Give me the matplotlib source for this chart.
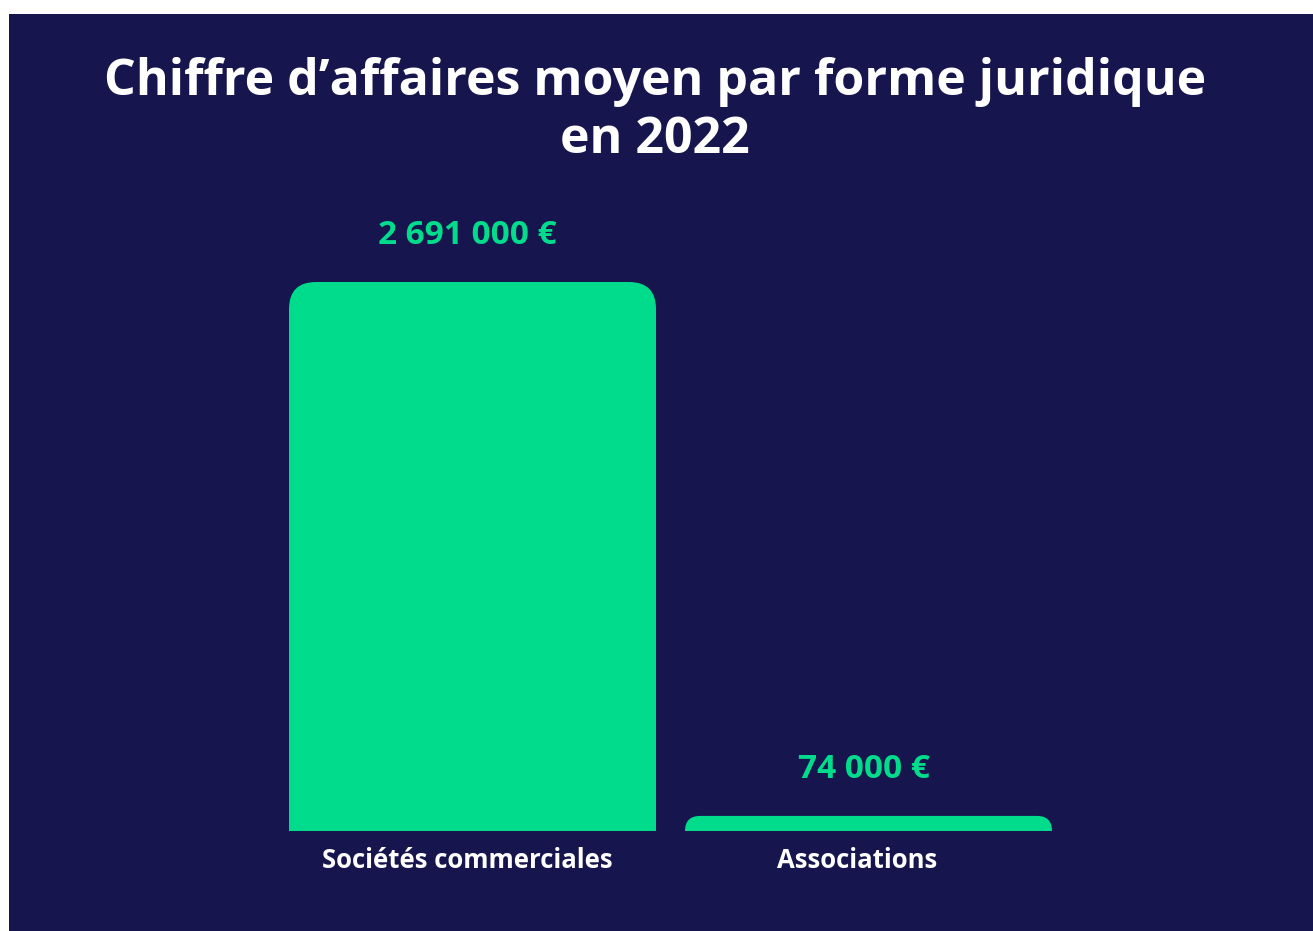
import matplotlib.pyplot as plt
from matplotlib.patches import FancyBboxPatch, Rectangle

# données
categories = ['Sociétés commerciales', 'Associations']
valeurs = [2691000, 74000]
etiquettes = ['2 691 000 €', '74 000 €']

fond = '#16154D'
vert = '#00DB8C'
W, H = 1313, 931

plt.rcParams['font.family'] = ['Open Sans', 'DejaVu Sans']

fig = plt.figure(figsize=(W / 100, H / 100), dpi=100, facecolor='white')
# panneau sombre (marge blanche en haut et à gauche)
fig.patches.append(Rectangle((9 / W, 0), 1 - 9 / W, (H - 14) / H,
                             transform=fig.transFigure, facecolor=fond,
                             edgecolor='none', zorder=-10))

# axes : base à y=831 px, sommet à y=282 px
x_px0, x_px1 = 260, 1080
y_bas, y_haut = 831, 282
ax = fig.add_axes([x_px0 / W, (H - y_bas) / H, (x_px1 - x_px0) / W, (y_bas - y_haut) / H])
ax.set_facecolor('none')
ax.axis('off')

px_x = 396.0  # pixels par unité x
xmin = -(472.5 - x_px0) / px_x
xmax = 1 + (x_px1 - 868.5) / px_x
ax.set_xlim(xmin, xmax)
ymax = max(valeurs)
ax.set_ylim(0, ymax)
px_y = (y_bas - y_haut) / ymax  # pixels par unité y

largeur = 367 / px_x
aspect = (1 / px_y) / (1 / px_x)

for i, v in enumerate(valeurs):
    h_px = v * px_y
    r_px = min(27, h_px)
    r = r_px / px_x
    ext = r_px / px_y
    boite = FancyBboxPatch((i - largeur / 2, -ext), largeur, v + ext,
                           boxstyle=f'round,pad=0,rounding_size={r}',
                           mutation_aspect=aspect, facecolor=vert,
                           edgecolor='none', clip_on=True)
    ax.add_patch(boite)
    ax.annotate(etiquettes[i], (i, v), xytext=(-5, 46.5), textcoords='offset pixels',
                ha='center', va='center', color=vert, fontsize=24,
                fontweight='bold', annotation_clip=False)
    ax.annotate(categories[i], (i, 0), xytext=(-5 - 6 * i, -30), textcoords='offset pixels',
                ha='center', va='center', color='white', fontsize=18.5,
                fontweight='bold', annotation_clip=False)

fig.text(655 / W, 1 - 111 / H, 'Chiffre d’affaires moyen par forme juridique\nen 2022',
         ha='center', va='center', color='white', fontsize=36, fontweight='bold',
         linespacing=1.2)

fig.savefig('out.png', dpi=100, facecolor='white')
